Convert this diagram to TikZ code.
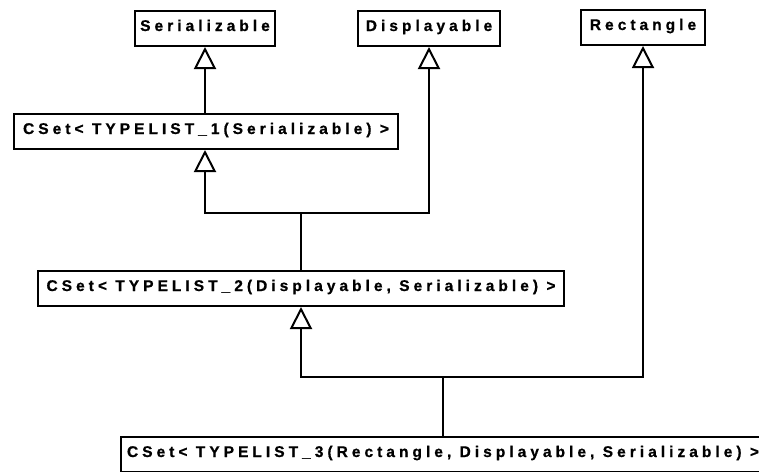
\documentclass[tikz,border=0pt]{standalone}
\usepackage{fontspec}
\newfontfamily\labfont[LetterSpace=26, FakeBold=0.8]{Liberation Sans Bold}
\usetikzlibrary{arrows.meta}
\begin{document}
\begin{tikzpicture}[x=1pt,y=-1pt,
  cls/.style={draw=black, line width=2pt, fill=white, inner sep=0pt,
    text height=11pt, text depth=6pt,
    minimum height=35pt, font=\labfont\fontsize{15.5}{18}\selectfont},
  inh/.style={draw=black, line width=2pt,
    -{Triangle[open, width=22pt, length=22pt, line width=2pt]}},
  plain/.style={draw=black, line width=2pt}]
\fill[white] (0,0) rectangle (759,471);
\useasboundingbox (0,0) rectangle (759,471);
\clip (0,0) rectangle (759,471);
\node[cls, minimum width=140pt] (ser) at (205,28.5) {Serializable};
\node[cls, minimum width=142pt] (disp) at (429,28.5) {Displayable};
\node[cls, minimum width=124pt] (rect) at (643,27.5) {Rectangle};
\node[cls, minimum width=384pt] (c1) at (206,131.5) {CSet< TYPELIST\_1(Serializable) >};
\node[cls, minimum width=526pt] (c2) at (301,288.5) {CSet< TYPELIST\_2(Displayable, Serializable) >};
\node[cls, minimum width=644pt] (c3) at (443,454.5) {CSet< TYPELIST\_3(Rectangle, Displayable, Serializable) >};
\coordinate (j1) at (301,213);
\coordinate (j2) at (443,377);
\draw[inh] (c1.north -| ser.south) -- (ser.south);
\draw[plain] (c2.north) -- (j1);
\draw[inh] (j1) -| (c1.south -| ser.south);
\draw[inh] (j1) -| (disp.south);
\draw[plain] (c3.north) -- (j2);
\draw[inh] (j2) -| (c2.south);
\draw[inh] (j2) -| (rect.south);
\end{tikzpicture}
\end{document}
